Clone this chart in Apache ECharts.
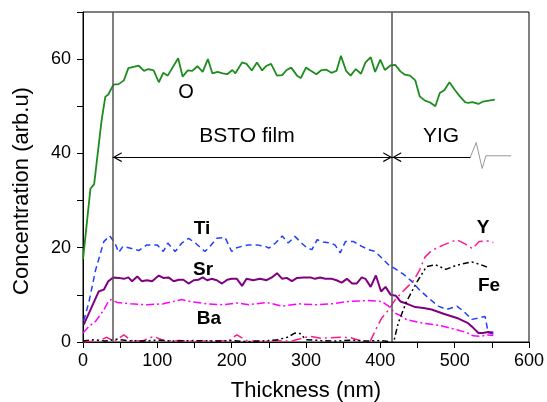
<!DOCTYPE html>
<html>
<head>
<meta charset="utf-8">
<script src="https://cdn.jsdelivr.net/npm/echarts@6/dist/echarts.min.js"></script>
<style>
  html, body { margin: 0; padding: 0; background: #fff; }
  #chart { width: 547px; height: 402px; }
</style>
</head>
<body>
<div id="chart"></div>
<script>
// depth profile, thickness in nm vs concentration (arb.u)
var oX = [0, 5, 10, 15, 25, 30, 34, 41, 48, 55, 61, 75, 82, 88, 95, 102, 108, 114, 128, 134, 141, 147, 154, 161, 168, 174, 181, 188, 194, 201, 205, 214, 220, 227, 234, 241, 247, 253, 261, 268, 274, 280, 288, 293, 300, 307, 314, 320, 327, 334, 341, 347, 354, 360, 367, 374, 380, 387, 393, 400, 406, 414, 420, 427, 433, 440, 447, 453, 460, 467, 474, 480, 486, 493, 500, 507, 514, 518, 524, 532, 538, 546, 554]
var oY = [17.5, 25, 32.5, 33.5, 47, 52, 52.5, 54.6, 54.7, 55.5, 58.1, 58.6, 57.5, 57.9, 57.6, 55.1, 57.1, 56.5, 60.2, 56.3, 57.6, 57.5, 58.5, 57.3, 60, 57, 57.3, 57, 56.8, 57.7, 57, 59.3, 59, 57.6, 59.3, 57.6, 58.6, 59, 56.5, 56.6, 57.7, 58.2, 56.5, 56, 58.2, 57.5, 56.8, 57.6, 57.8, 57.1, 57.5, 60.7, 57.5, 56.5, 57.9, 56.9, 59.3, 60.4, 57.3, 59.9, 57.7, 58.7, 58.8, 57.4, 56.7, 56.5, 55.5, 52.1, 51.2, 50.8, 50, 52.8, 53.4, 55.1, 53.5, 52.1, 50.9, 50.7, 50.9, 50.5, 51, 51.2, 51.4]

var tiX = [1, 8, 17, 28, 36, 43, 48, 54, 64, 75, 86, 100, 108, 114, 124, 133, 142, 151, 164, 171, 180, 191, 200, 205, 214, 223, 234, 245, 250, 259, 268, 276, 285, 294, 301, 308, 315, 323, 332, 339, 346, 353, 364, 375, 384, 393, 402, 411, 418, 431, 442, 453, 465, 478, 489, 503, 512, 523, 532, 541, 545, 552]
var tiY = [4.5, 8.5, 15.3, 21.3, 22.5, 21, 19, 20.3, 19.9, 19.4, 20.6, 20.6, 19.2, 21, 19.2, 21, 22, 21, 19.2, 20.3, 22, 22.2, 19.2, 19.9, 20.3, 20.6, 20.6, 20.3, 19.9, 21, 22.5, 21, 22.4, 21, 20, 19.6, 21.7, 21.2, 21, 20.6, 18.9, 21.3, 21.3, 20.3, 19.6, 19.2, 17.8, 16.4, 15.7, 14.4, 12.9, 11, 9.3, 7.6, 6.9, 7.6, 6.5, 4.8, 5.1, 5.4, 2, 1.7]

var srX = [1, 10, 21, 28, 34, 41, 48, 55, 61, 66, 73, 79, 86, 93, 102, 108, 115, 122, 129, 135, 142, 149, 155, 161, 167, 173, 180, 187, 194, 200, 207, 214, 220, 229, 238, 247, 254, 261, 268, 274, 281, 288, 297, 306, 312, 319, 326, 335, 341, 348, 355, 362, 368, 375, 380, 387, 394, 401, 407, 414, 421, 427, 436, 447, 458, 469, 485, 503, 518, 525, 532, 538, 545, 552]
var srY = [3.7, 6.8, 10.7, 11.1, 12.9, 13.7, 13.6, 13.4, 13.7, 12.9, 13.9, 12.9, 13.1, 12.9, 14.1, 13.6, 13.7, 12.9, 13.2, 13.2, 12.4, 13.1, 13.2, 13.7, 13.1, 13.4, 13.1, 12.4, 13.2, 13.4, 13.4, 11.9, 13.4, 13.1, 13.4, 13.1, 13.7, 14.6, 13.4, 13.6, 12.9, 13.6, 13.7, 13.7, 13.4, 13.7, 13.4, 13.4, 13.1, 12.6, 13.4, 12.4, 12.4, 13.7, 13.4, 11.7, 14.1, 10.7, 11.7, 10, 9.8, 8.6, 8.1, 7.4, 7.2, 6.9, 6, 5.1, 4, 3, 1.9, 1.9, 2.1, 2]

var baX = [0, 8, 17, 28, 34, 38, 46, 64, 86, 108, 133, 144, 167, 189, 207, 223, 247, 268, 290, 312, 335, 357, 384, 402, 411, 420, 427, 436, 458, 480, 503, 516, 525, 534, 545, 552]
var baY = [1.9, 3.3, 4.4, 6.8, 8.6, 9, 8.4, 8.1, 7.9, 8.1, 9, 8.6, 8.1, 7.9, 8.3, 7.9, 8.4, 7.6, 8.1, 7.9, 8.1, 8.6, 8.8, 8.6, 7.6, 6.1, 5.6, 4.7, 4, 3.5, 2.6, 2, 1.3, 1.2, 1.5, 1.4]

var yX = [0, 20, 32, 42, 55, 65, 80, 95, 110, 130, 150, 175, 195, 207, 220, 240, 260, 280, 305, 320, 346, 360, 377, 386, 395, 402, 411, 420, 432, 444, 453, 460, 469, 485, 503, 514, 524, 533, 543, 552]
var yY = [0, 0.2, 1, 0.1, 1.5, 0.3, 0.2, 1.2, 0.2, 0.3, 0.1, 0.3, 0.2, 1.5, 0.3, 0.1, 0.3, 0.2, 1.2, 0.8, 1, 0.9, 0.1, 0, 3, 5.1, 6.8, 9, 11, 12.9, 15.3, 18, 19.4, 20.6, 21.7, 20.8, 19.8, 21.3, 21.5, 21.1]

var feX = [0, 15, 30, 45, 60, 80, 100, 120, 150, 180, 200, 220, 240, 260, 275, 285, 292, 300, 320, 340, 360, 380, 400, 412, 418, 424, 435, 448, 462, 474, 488, 503, 523, 535, 547]
var feY = [0.2, 0.5, 0.2, 0.6, 0.3, 0.2, 0.4, 0.2, 0.3, 0.2, 0.3, 0.1, 0.2, 0.4, 1, 1.9, 1.8, 0.5, 0.3, 0.2, 0.4, 0.2, 0.3, 0.1, 0, 4, 8.5, 12.4, 16, 16.4, 15.4, 16.3, 17, 16.4, 15.7]

// layer boundaries and the axis-break mark on the YIG arrow
var boundaries = [40, 416]
var arrowLevel = 39.2
var arrowEnd = 521
var breakX = [521, 529, 537, 542, 576]
var breakY = [39.2, 42.3, 36.8, 39.5, 39.5]

function pairs(xs, ys) {
  return xs.map(function (x, i) { return [x, ys[i]] })
}

var chart = echarts.init(document.getElementById('chart'))
var font = 'Liberation Sans, Arial, sans-serif'
// open chevron head, drawn pointing up, rotated by markLine
var chevron = 'path://M0,10 L5,0 L10,10 L8.6,10 L5,2.6 L1.4,10 Z'
var headGap = 6  // chevrons are centred on the line end, pull them in so tips meet the boundaries

function label(text, x, y, style) {
  return { type: 'text', x: x, y: y, style: { text: text, fill: '#000', font: style + ' ' + font, align: 'center', verticalAlign: 'middle' } }
}

chart.setOption({
  animation: false,
  grid: { left: 83, right: 18, top: 12, bottom: 60, show: true, borderColor: '#000', borderWidth: 1, outerBoundsMode: 'none' },
  xAxis: {
    type: 'value', min: 0, max: 600, interval: 50,
    name: 'Thickness (nm)', nameLocation: 'middle', nameGap: 38,
    nameTextStyle: { fontSize: 22, color: '#000', fontFamily: font },
    axisLine: { lineStyle: { color: '#000', width: 1 } },
    axisTick: { inside: false, length: 6, lineStyle: { color: '#000' } },
    axisLabel: {
      margin: 10, fontSize: 18, color: '#000', fontFamily: font,
      formatter: function (v) { return v % 100 === 0 ? v : '' }
    },
    splitLine: { show: false }
  },
  yAxis: {
    type: 'value', min: 0, max: 70, interval: 10,
    name: 'Concentration (arb.u)', nameLocation: 'middle', nameGap: 50,
    nameTextStyle: { fontSize: 22, color: '#000', fontFamily: font, padding: [0, 28, 0, 0] },
    axisLine: { show: true, lineStyle: { color: '#000', width: 1 } },
    axisTick: { show: true, inside: false, length: 6, lineStyle: { color: '#000' } },
    axisLabel: {
      margin: 12, fontSize: 18, color: '#000', fontFamily: font,
      formatter: function (v) { return v % 20 === 0 ? v : '' }
    },
    splitLine: { show: false }
  },
  series: [
    {
      name: 'O', type: 'line', data: pairs(oX, oY), showSymbol: false,
      lineStyle: { color: '#1e8c1e', width: 1.8 },
      markLine: {
        silent: true, symbol: 'none', label: { show: false },
        lineStyle: { color: '#555', width: 1.5, type: 'solid' },
        data: boundaries.map(function (b) { return { xAxis: b } })
      }
    },
    {
      name: 'Ti', type: 'line', data: pairs(tiX, tiY), showSymbol: false,
      lineStyle: { color: '#2040ff', width: 1.5, type: [6, 4] }
    },
    {
      name: 'Sr', type: 'line', data: pairs(srX, srY), showSymbol: false,
      lineStyle: { color: '#800080', width: 2 }
    },
    {
      name: 'Ba', type: 'line', data: pairs(baX, baY), showSymbol: false,
      lineStyle: { color: '#ff00ff', width: 1.5, type: [8, 3, 2, 3] }
    },
    {
      name: 'Y', type: 'line', data: pairs(yX, yY), showSymbol: false,
      lineStyle: { color: '#ff1a8c', width: 1.5, type: [10, 4, 2, 4] }
    },
    {
      name: 'Fe', type: 'line', data: pairs(feX, feY), showSymbol: false,
      lineStyle: { color: '#000', width: 1.5, type: [6, 3, 2, 3, 2, 3] }
    },
    {
      name: 'break', type: 'line', data: pairs(breakX, breakY), showSymbol: false,
      lineStyle: { color: '#999', width: 1 },
      markLine: {
        silent: true, label: { show: false }, symbolSize: [10, 9],
        lineStyle: { color: '#000', width: 1, type: 'solid' },
        data: [
          [{ coord: [boundaries[0], arrowLevel], symbol: 'none' }, { coord: [boundaries[1], arrowLevel], symbol: 'none' }],
          [{ coord: [boundaries[0] + headGap, arrowLevel], symbol: chevron }, { coord: [boundaries[1] - headGap, arrowLevel], symbol: chevron }],
          [{ coord: [boundaries[1] + headGap, arrowLevel], symbol: chevron }, { coord: [arrowEnd, arrowLevel], symbol: 'none' }],
          [{ coord: [boundaries[1], arrowLevel], symbol: 'none' }, { coord: [arrowEnd, arrowLevel], symbol: 'none' }]
        ]
      }
    }
  ],
  graphic: [
    label('O', 186, 92, '20px'),
    label('BSTO film', 247, 136, '21px'),
    label('YIG', 441, 136, '21px'),
    label('Ti', 202, 229, 'bold 19px'),
    label('Sr', 203, 270, 'bold 19px'),
    label('Ba', 209, 319, 'bold 19px'),
    label('Y', 483, 228, 'bold 19px'),
    label('Fe', 489, 286, 'bold 19px')
  ]
})
</script>
</body>
</html>
